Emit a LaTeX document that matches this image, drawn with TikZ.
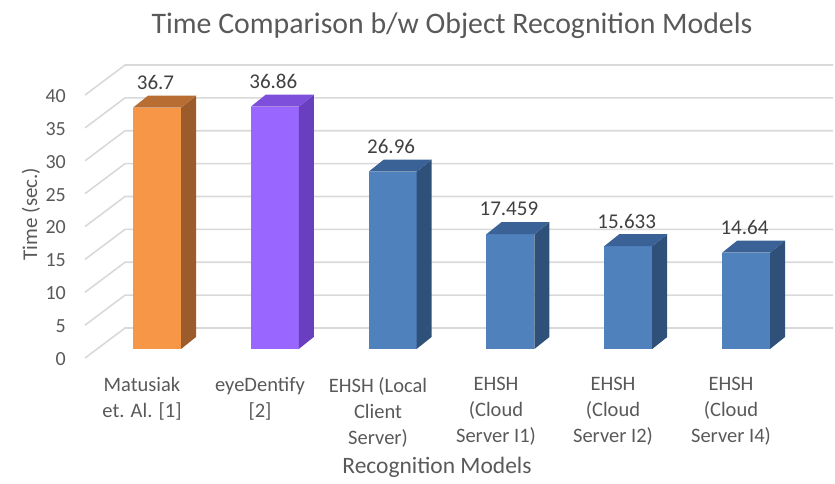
\documentclass[tikz,border=0pt]{standalone}
\usepackage{fontspec}
\setmainfont{Carlito}
\definecolor{txt}{HTML}{595959}
\definecolor{val}{HTML}{404040}
\definecolor{grid}{HTML}{D9D9D9}
\definecolor{orF}{HTML}{F79646}\definecolor{orS}{HTML}{9C5B2A}\definecolor{orT}{HTML}{B86E32}
\definecolor{puF}{HTML}{9966FF}\definecolor{puS}{HTML}{6A3FBF}\definecolor{puT}{HTML}{7D4FDB}
\definecolor{blF}{HTML}{4F81BD}\definecolor{blS}{HTML}{2F5078}\definecolor{blT}{HTML}{3A6296}
\begin{document}
\begin{tikzpicture}[x=1pt,y=-1pt,
  gridline/.style={draw=grid,line width=1.6pt},
  ticklbl/.style={anchor=east,text=txt,font=\fontsize{20}{24}\selectfont,inner sep=0pt},
  vallbl/.style={text=val,font=\fontsize{21}{24}\selectfont,inner sep=0pt},
  catlbl/.style={text=txt,font=\fontsize{20.5}{26}\selectfont,align=center,anchor=north,inner sep=0pt},
  axtitle/.style={text=txt,inner sep=0pt}]
\useasboundingbox (0,0) rectangle (835,484);
\def\k{6.575}
% gridlines
\foreach \v in {0,5,...,40}{
  \coordinate (f\v) at (85,{358-\v*\k});
  \coordinate (b\v) at (125,{328-\v*\k});
  \coordinate (e\v) at (833,{328-\v*\k});
  \draw[gridline] (f\v) -- (b\v) -- (e\v);
  \node[ticklbl] (t\v) at (66,{359-\v*\k}) {\v};
}
% bars
\foreach \i/\val/\F/\S/\T/\lbl in {0/36.7/orF/orS/orT/36.7, 1/36.86/puF/puS/puT/36.86, 2/26.96/blF/blS/blT/26.96, 3/17.459/blF/blS/blT/17.459, 4/15.633/blF/blS/blT/15.633, 5/14.64/blF/blS/blT/14.64}{
  \pgfmathsetmacro{\xl}{133+117.8*\i}
  \pgfmathsetmacro{\xr}{\xl+48}
  \pgfmathsetmacro{\yt}{349-\val*\k}
  \fill[\F] (\xl,349) rectangle (\xr,\yt);
  \fill[\S] (\xr,349) -- (\xr+15,337) -- (\xr+15,\yt-12) -- (\xr,\yt) -- cycle;
  \fill[\T] (\xl,\yt) -- (\xl+15,\yt-12) -- (\xr+15,\yt-12) -- (\xr,\yt) -- cycle;
  \node[vallbl] (v\i) at (\xl+22.5,\yt-25) {\lbl};
}
% category labels
\node[catlbl] (c0) at (142,377) {Matusiak\\et. Al. [1]};
\node[catlbl] (c1) at (260,377) {eyeDentify\\{}[2]};
\node[catlbl] (c2) at (378,377) {EHSH (Local\\Client\\Server)};
\node[catlbl] (c3) at (496,377) {EHSH\\(Cloud\\Server I1)};
\node[catlbl] (c4) at (613,377) {EHSH\\(Cloud\\Server I2)};
\node[catlbl] (c5) at (731,377) {EHSH\\(Cloud\\Server I4)};
% titles
\node[axtitle,font=\fontsize{23.5}{26}\selectfont] (xt) at (437,467) {Recognition Models};
\node[axtitle,font=\fontsize{21}{26}\selectfont,rotate=90] (yt) at (31,214) {Time (sec.)};
\node[text=txt,font=\fontsize{29.8}{32}\selectfont,inner sep=0pt] (title) at (452,26) {Time Comparison b/w Object Recognition Models};
\end{tikzpicture}
\end{document}
